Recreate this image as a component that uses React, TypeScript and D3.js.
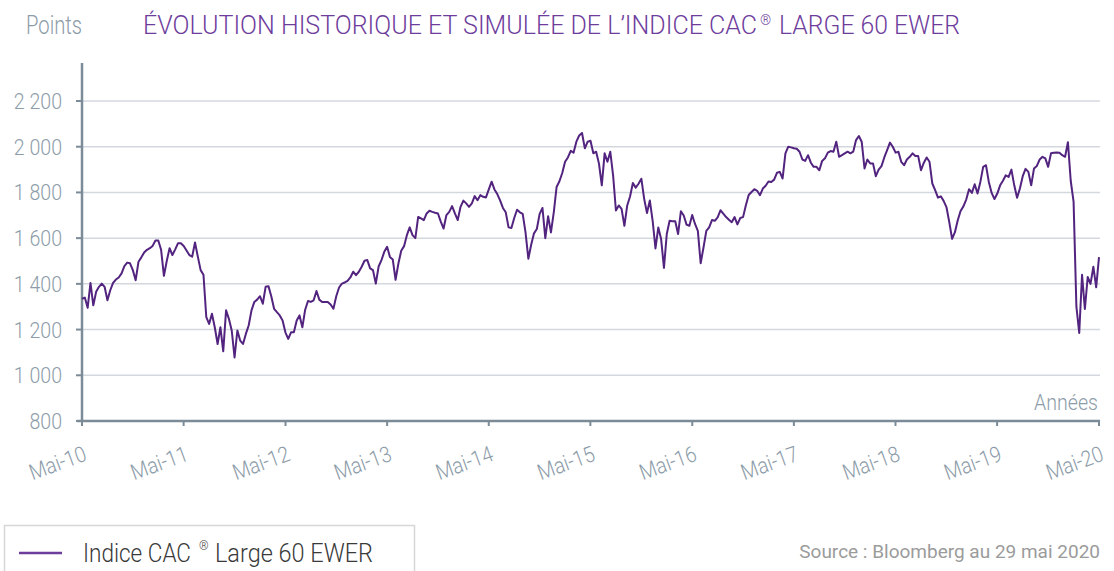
import React from "react";
import * as d3 from "d3";

// ---- Data ----
const startDate = new Date(2010, 4, 29);
const endDate = new Date(2020, 4, 29);
const tickYears = [2010, 2011, 2012, 2013, 2014, 2015, 2016, 2017, 2018, 2019, 2020];
const xTickLabels = ["Mai-10", "Mai-11", "Mai-12", "Mai-13", "Mai-14", "Mai-15", "Mai-16", "Mai-17", "Mai-18", "Mai-19", "Mai-20"];
const yTicks = [800, 1000, 1200, 1400, 1600, 1800, 2000, 2200];

// values roughly every ten days, one array per year (May to May)
const v2010 = [1335, 1340, 1295, 1404, 1306, 1365, 1387, 1401, 1387, 1328, 1372, 1404, 1419, 1428, 1446, 1478, 1493, 1490, 1460, 1416, 1497, 1516, 1537, 1549, 1556, 1566, 1590, 1590, 1549, 1435, 1500, 1556, 1526, 1551, 1578, 1578];
const v2011 = [1566, 1546, 1526, 1519, 1581, 1519, 1460, 1440, 1254, 1225, 1269, 1210, 1137, 1210, 1105, 1284, 1247, 1196, 1078, 1196, 1152, 1137, 1181, 1218, 1284, 1321, 1331, 1346, 1313, 1387, 1390, 1346, 1291, 1276, 1262, 1240];
const v2012 = [1188, 1159, 1188, 1188, 1240, 1262, 1210, 1287, 1325, 1321, 1328, 1369, 1331, 1321, 1321, 1321, 1310, 1291, 1346, 1384, 1401, 1406, 1413, 1428, 1453, 1438, 1453, 1475, 1501, 1504, 1468, 1460, 1401, 1476, 1504, 1540];
const v2013 = [1562, 1518, 1507, 1418, 1489, 1545, 1565, 1613, 1647, 1613, 1600, 1693, 1686, 1679, 1708, 1720, 1715, 1711, 1708, 1672, 1642, 1701, 1715, 1740, 1708, 1679, 1737, 1764, 1752, 1737, 1752, 1784, 1766, 1788, 1781, 1778];
const v2014 = [1813, 1847, 1813, 1793, 1765, 1732, 1713, 1647, 1644, 1688, 1724, 1713, 1706, 1625, 1510, 1571, 1621, 1640, 1706, 1732, 1600, 1696, 1625, 1713, 1824, 1849, 1885, 1934, 1953, 1982, 1974, 2022, 2049, 2060, 1993, 2022];
const v2015 = [2026, 1971, 1978, 1926, 1831, 1971, 1934, 1978, 1875, 1721, 1743, 1728, 1654, 1743, 1782, 1841, 1821, 1838, 1860, 1772, 1710, 1765, 1676, 1555, 1647, 1596, 1470, 1618, 1676, 1674, 1674, 1618, 1718, 1699, 1659, 1654];
const v2016 = [1701, 1662, 1632, 1490, 1559, 1632, 1647, 1679, 1676, 1691, 1722, 1707, 1692, 1681, 1670, 1692, 1660, 1688, 1692, 1744, 1789, 1802, 1814, 1807, 1788, 1817, 1829, 1848, 1846, 1856, 1886, 1890, 1861, 1971, 2000, 1997];
const v2017 = [1993, 1991, 1978, 1944, 1938, 1963, 1930, 1912, 1912, 1897, 1938, 1949, 1974, 1981, 1978, 2022, 1956, 1963, 1971, 1978, 1971, 1978, 2029, 2047, 2022, 1905, 1944, 1927, 1927, 1871, 1900, 1915, 1953, 1985, 2018, 2000];
const v2018 = [1974, 1978, 1934, 1919, 1944, 1956, 1971, 1959, 1959, 1897, 1930, 1953, 1934, 1839, 1810, 1777, 1783, 1763, 1736, 1670, 1597, 1626, 1678, 1719, 1739, 1769, 1814, 1798, 1836, 1795, 1846, 1912, 1919, 1846, 1798, 1771];
const v2019 = [1795, 1831, 1851, 1875, 1868, 1900, 1831, 1777, 1817, 1871, 1903, 1890, 1831, 1905, 1916, 1944, 1956, 1949, 1912, 1971, 1974, 1975, 1974, 1963, 1956, 2020, 1850, 1760, 1300, 1185, 1440, 1290, 1430, 1400, 1475, 1385];
const v2020 = [1517];

const titleStart = "ÉVOLUTION HISTORIQUE ET SIMULÉE DE L’INDICE CAC";
const titleEnd = "LARGE 60 EWER";
const legendStart = "Indice CAC";
const legendEnd = "Large 60 EWER";
const sourceText = "Source : Bloomberg au 29 mai 2020";

const allValues = [...v2010, ...v2011, ...v2012, ...v2013, ...v2014, ...v2015, ...v2016, ...v2017, ...v2018, ...v2019, ...v2020];
const nSteps = allValues.length - 1;
const data = allValues.map((v, i) => ({
  date: new Date(startDate.getTime() + (i * (endDate.getTime() - startDate.getTime())) / nSteps),
  value: v,
}));

const W = 1114;
const H = 571;
const FONT = "Roboto, 'Noto Sans', sans-serif";
const AXIS = "#7b8b97";
const GRID = "#d3d8df";
const LABEL = "#8d9ca9";
const PURPLE = "#52247f";
const TITLE = "#6e3d9c";

const fr = d3.formatLocale({ decimal: ",", thousands: " ", grouping: [3], currency: ["", " €"] });
const fmt = fr.format(",d");

export default function App() {
  const x = d3.scaleTime().domain([startDate, endDate]).range([82, 1099]);
  const y = d3.scaleLinear().domain([800, 2200]).range([421, 101]);
  const line = d3
    .line<{ date: Date; value: number }>()
    .x((d) => x(d.date))
    .y((d) => y(d.value));
  const tickDates = tickYears.map((yr) => new Date(yr, 4, 29));
  const x0 = x.range()[0];
  const x1 = x.range()[1];

  return (
    <svg
      width={W}
      height={H}
      style={{ position: "absolute", left: 0, top: 0, background: "#fff" }}
      fontFamily={FONT}
    >
      {/* header */}
      <text x={26} y={34} fontSize={25} fontWeight={300} fill={LABEL} textLength={56} lengthAdjust="spacingAndGlyphs">
        Points
      </text>
      <text x={143} y={34} fontSize={25} fontWeight={300} fill={TITLE} textLength={614} lengthAdjust="spacingAndGlyphs">
        {titleStart}
      </text>
      <text x={760} y={25} fontSize={14} fontWeight={300} fill={TITLE}>
        ®
      </text>
      <text x={779} y={34} fontSize={25} fontWeight={300} fill={TITLE} textLength={181} lengthAdjust="spacingAndGlyphs">
        {titleEnd}
      </text>

      {/* gridlines */}
      {yTicks.slice(1).map((t) => (
        <line key={t} x1={x0} x2={1100} y1={y(t)} y2={y(t)} stroke={GRID} strokeWidth={1.5} />
      ))}

      {/* y axis */}
      <line x1={x0} x2={x0} y1={63} y2={y(800) + 1} stroke={AXIS} strokeWidth={2.5} />
      {yTicks.map((t) => (
        <g key={t}>
          <line x1={x0 - 6} x2={x0} y1={y(t)} y2={y(t)} stroke={AXIS} strokeWidth={2} />
          <text
            transform={`translate(62,${y(t) + 8}) scale(0.89,1)`}
            textAnchor="end"
            fontSize={22}
            fontWeight={300}
            fill={LABEL}
          >
            {fmt(t)}
          </text>
        </g>
      ))}

      {/* x axis */}
      <line x1={77} x2={x1 + 1} y1={y(800)} y2={y(800)} stroke={AXIS} strokeWidth={2.5} />
      {tickDates.map((d, i) => (
        <g key={i}>
          <line x1={x(d)} x2={x(d)} y1={y(800)} y2={y(800) + 5} stroke={AXIS} strokeWidth={2} />
          <text
            transform={`translate(${x(d) + 6},460) rotate(-20) scale(0.89,1)`}
            textAnchor="end"
            fontSize={22}
            fontWeight={300}
            fill={LABEL}
          >
            {xTickLabels[i]}
          </text>
        </g>
      ))}
      <text transform={`translate(1098,410) scale(0.89,1)`} textAnchor="end" fontSize={22} fontWeight={300} fill={LABEL}>
        Années
      </text>

      {/* series */}
      <path d={line(data) || ""} fill="none" stroke={PURPLE} strokeWidth={2} strokeLinejoin="round" />

      {/* legend */}
      <rect x={4.5} y={525.5} width={410} height={60} fill="none" stroke="#d6d6d6" strokeWidth={1.5} />
      <line x1={19} x2={62} y1={553} y2={553} stroke={TITLE} strokeWidth={2.5} />
      <g transform="translate(0,562) scale(1,1.19)">
        <text x={83} y={0} fontSize={21} fontWeight={300} fill="#3a3a3a" textLength={108} lengthAdjust="spacingAndGlyphs">
          {legendStart}
        </text>
        <text x={215} y={0} fontSize={21} fontWeight={300} fill="#3a3a3a" textLength={158} lengthAdjust="spacingAndGlyphs">
          {legendEnd}
        </text>
      </g>
      <text x={199} y={550} fontSize={12} fontWeight={300} fill="#3a3a3a">
        ®
      </text>

      {/* source */}
      <text x={1100} y={558} textAnchor="end" fontSize={19} fill="#9b9b9b">
        {sourceText}
      </text>
    </svg>
  );
}
